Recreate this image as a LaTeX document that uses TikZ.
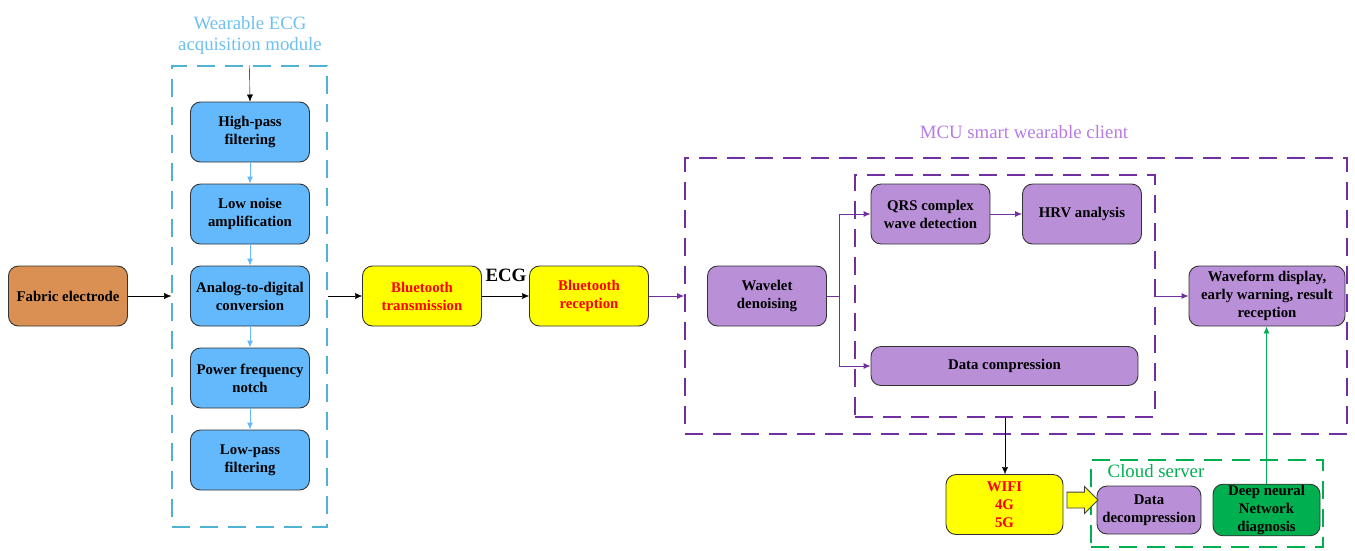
\documentclass[tikz,border=0pt]{standalone}
\usepackage{fontspec}
\setmainfont{Liberation Serif}
\usetikzlibrary{arrows.meta,shapes.arrows}

\definecolor{elecorange}{HTML}{D99052}
\definecolor{acqblue}{HTML}{63B9FB}
\definecolor{framecyan}{HTML}{4FB3D3}
\definecolor{titleblue}{HTML}{6CC0F2}
\definecolor{mcupurple}{HTML}{7030A0}
\definecolor{boxpurple}{HTML}{B98FD8}
\definecolor{titlepurple}{HTML}{B77BE8}
\definecolor{cloudgreen}{HTML}{00B050}
\definecolor{btyellow}{HTML}{FFFF00}

\tikzset{
  blk/.style={draw=black!80, line width=0.9pt, rounded corners=10pt,
    minimum width=119pt, minimum height=60pt, inner sep=1pt, align=center,
    font=\fontsize{14.8}{18}\selectfont\bfseries},
  frame/.style={draw, line width=1.6pt, dash pattern=on 18pt off 10pt,
    inner sep=0pt},
  heading/.style={align=center, font=\fontsize{18.8}{21}\selectfont},
  tip/.style={-{Latex[length=7pt,width=6pt]}}
}

\begin{document}
\begin{tikzpicture}[x=1pt, y=-1pt]
  \useasboundingbox (0,0) rectangle (1355,550);

  % frames
  \path (249.5,296.5) node[frame, draw=framecyan, minimum width=155pt, minimum height=461pt] (acq){}
        (1016,296) node[frame, draw=mcupurple, minimum width=662pt, minimum height=276pt] (mcu){}
        (1005,296) node[frame, draw=mcupurple, minimum width=300pt, minimum height=242pt] (inner){}
        (1207,503.5) node[frame, draw=cloudgreen, minimum width=232pt, minimum height=87pt] (cloud){};

  \path (250,35) node[heading, text=titleblue] (acqtitle){Wearable ECG\\acquisition module}
        (1024,132) node[heading, text=titlepurple] (mcutitle){MCU smart wearable client}
        (1156,471) node[heading, text=cloudgreen] (cloudtitle){Cloud server};

  % acquisition chain
  \path (68,296) node[blk, fill=elecorange] (elec){Fabric electrode}
        (250,132) node[blk, fill=acqblue] (hp){High-pass\\filtering}
        (250,214) node[blk, fill=acqblue] (lna){Low noise\\amplification}
        (250,296) node[blk, fill=acqblue] (adc){Analog-to-digital\\conversion}
        (250,378) node[blk, fill=acqblue] (notch){Power frequency\\notch}
        (250,460) node[blk, fill=acqblue] (lp){Low-pass\\filtering};

  % bluetooth link
  \path (422,296) node[blk, fill=btyellow, text=red] (bttx){Bluetooth\\transmission}
        (589,296) node[blk, fill=btyellow, text=red] (btrx){Bluetooth\\reception}
        (506,275) node[font=\fontsize{18.8}{21}\selectfont\bfseries] (ecg){ECG};

  % client side
  \path (767,296) node[blk, fill=boxpurple] (wav){Wavelet\\denoising}
        (930.5,214) node[blk, fill=boxpurple] (qrs){QRS complex\\wave detection}
        (1082,214) node[blk, fill=boxpurple] (hrv){HRV analysis}
        (1004.5,366) node[blk, fill=boxpurple, minimum width=267pt, minimum height=39pt] (dc){Data compression}
        (1267,296) node[blk, fill=boxpurple, minimum width=156pt] (disp){Waveform display,\\early warning, result\\reception};

  % wireless and cloud
  \path (1004.5,504.5) node[blk, fill=btyellow, text=red, minimum width=117pt] (wifi){WIFI\\4G\\5G}
        (1149,510) node[blk, fill=boxpurple, minimum width=104pt, minimum height=48pt] (dd){Data\\decompression}
        (1266.5,510) node[blk, fill=cloudgreen, minimum width=107pt, minimum height=48pt] (dnn){Deep neural\\Network\\diagnosis}
        (1078.5,500) node[single arrow, draw=black!75, fill=btyellow, line width=0.9pt,
           minimum height=31pt, inner xsep=0pt, inner ysep=7.5pt,
           single arrow head extend=5.5pt] (push){};

  % connectors
  \draw[tip] (acq.north) -- (hp.north);
  \draw[tip, acqblue, line width=0.9pt] (hp) -- (lna);
  \draw[tip, acqblue, line width=0.9pt] (lna) -- (adc);
  \draw[tip, acqblue, line width=0.9pt] (adc) -- (notch);
  \draw[tip, acqblue, line width=0.9pt] (notch) -- (lp);
  \draw[tip] (elec) -- (acq.west |- elec);
  \draw[tip] (acq.east |- bttx) -- (bttx);
  \draw[tip] (bttx) -- (btrx);
  \draw[tip, mcupurple, line width=0.9pt] (btrx) -- (mcu.west |- btrx);

  \draw[mcupurple, line width=0.9pt] (wav.east) -- ++(12,0) coordinate (split);
  \draw[tip, mcupurple, line width=0.9pt] (split) |- (qrs.west);
  \draw[tip, mcupurple, line width=0.9pt] (split) |- (dc.west);
  \draw[tip, mcupurple, line width=0.9pt] (qrs) -- (hrv);
  \draw[tip, mcupurple, line width=0.9pt] (inner.east |- disp) -- (disp);

  \draw[tip] (inner.south) -- (inner.south |- wifi.north);
  \draw[tip, cloudgreen, line width=0.9pt] (dnn.north) -- (dnn.north |- disp.south);
\end{tikzpicture}
\end{document}
